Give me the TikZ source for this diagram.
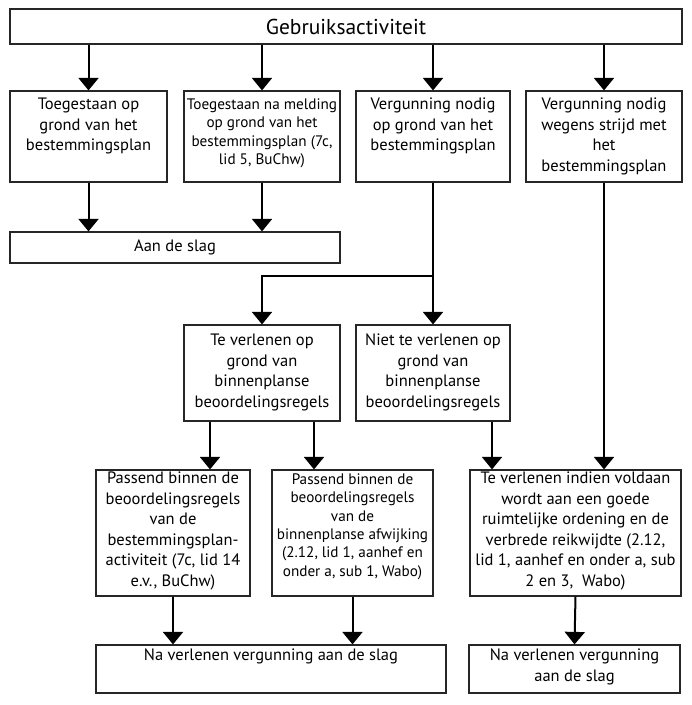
\documentclass[tikz,border=0pt]{standalone}
\usepackage{fontspec}
\setmainfont{PT Sans}
\usetikzlibrary{arrows.meta,calc}
\tikzset{
  boxs/.style={draw=black!85, line width=1.2pt, inner sep=0pt},
  txt/.style={anchor=north, inner sep=0pt, align=center, font=\fontsize{16.5}{20.5}\selectfont},
  txts/.style={anchor=north, inner sep=0pt, align=center, font=\fontsize{15.2}{18.4}\selectfont},
  arr/.style={line width=2pt, -{Triangle[width=20pt,length=12.5pt]}},
}
\begin{document}
\begin{tikzpicture}[x=1pt,y=-1pt]
\useasboundingbox (0,0) rectangle (692,705);
% boxes
\node[boxs, minimum width=672pt, minimum height=35pt, font=\fontsize{21.5}{25}\selectfont] (top) at (346,26.5) {Gebruiksactiviteit};
\node[boxs, minimum width=157pt, minimum height=91pt] (b1) at (88.5,136.5) {};
\node[boxs, minimum width=156pt, minimum height=91pt] (b2) at (262,136.5) {};
\node[boxs, minimum width=154pt, minimum height=91pt] (b3) at (433,136.5) {};
\node[boxs, minimum width=156pt, minimum height=91pt] (b4) at (604,136.5) {};
\node[boxs, minimum width=330pt, minimum height=31pt, font=\fontsize{16.5}{20.5}\selectfont] (aan) at (175,247.5) {Aan de slag};
\node[boxs, minimum width=156pt, minimum height=96pt] (t1) at (262,373) {};
\node[boxs, minimum width=154pt, minimum height=96pt] (t2) at (433,373) {};
\node[boxs, minimum width=154pt, minimum height=126pt] (c1) at (173,533) {};
\node[boxs, minimum width=161pt, minimum height=126pt] (c2) at (352.5,533) {};
\node[boxs, minimum width=211pt, minimum height=126pt] (c3) at (575.5,533) {};
\node[boxs, minimum width=350pt, minimum height=48pt] (d1) at (271,669) {};
\node[boxs, minimum width=211pt, minimum height=48pt] (d2) at (574.5,669) {};
% texts
\node[txt, yshift=-7.5pt] (b1t) at (b1.north) {Toegestaan op\\grond van het\\bestemmingsplan};
\node[txts, yshift=-8pt] (b2t) at (b2.north) {Toegestaan na melding\\op grond van het\\bestemmingsplan (7c,\\lid 5, BuChw)};
\node[txt, yshift=-7.5pt] (b3t) at (b3.north) {Vergunning nodig\\op grond van het\\bestemmingsplan};
\node[txt, yshift=-7.5pt] (b4t) at (b4.north) {Vergunning nodig\\wegens strijd met\\het\\bestemmingsplan};
\node[txt, yshift=-9.5pt] (t1t) at (t1.north) {Te verlenen op\\grond van\\binnenplanse\\beoordelingsregels};
\node[txt, yshift=-9.5pt] (t2t) at (t2.north) {Niet te verlenen op\\grond van\\binnenplanse\\beoordelingsregels};
\node[txt, yshift=-2.5pt] (c1t) at (c1.north) {Passend binnen de\\beoordelingsregels\\van de\\bestemmingsplan-\\activiteit (7c, lid 14\\e.v., BuChw)};
\node[txts, yshift=-4pt] (c2t) at (c2.north) {Passend binnen de\\beoordelingsregels\\van de\\binnenplanse afwijking\\(2.12, lid 1, aanhef en\\onder a, sub 1, Wabo)};
\node[txt, yshift=-2.5pt] (c3t) at (c3.north) {Te verlenen indien voldaan\\wordt aan een goede\\ruimtelijke ordening en de\\verbrede reikwijdte (2.12,\\lid 1, aanhef en onder a, sub\\2 en 3,\ \ Wabo)};
\node[txt, yshift=-4.5pt] (d1t) at (d1.north) {Na verlenen vergunning aan de slag};
\node[txt, yshift=-4.5pt] (d2t) at (d2.north) {Na verlenen vergunning\\aan de slag};
% connectors
\foreach \b in {b1,b2,b3,b4}
  \draw[arr] (\b.north |- top.south) -- (\b.north);
\draw[arr] (b1.south) -- (b1.south |- aan.north);
\draw[arr] (b2.south) -- (b2.south |- aan.north);
\coordinate (split) at ([yshift=48pt]t2.north);
\draw[arr] (b3.south) -- (b3.south |- t2.north);
\draw[arr] (b3.south |- split) -| (t1.north);
\draw[arr] (b4.south) -- (b4.south |- c3.north);
\draw[arr] ([xshift=-52pt]t1.south) -- ([xshift=-52pt]t1.south |- c1.north);
\draw[arr] ([xshift=52pt]t1.south) -- ([xshift=52pt]t1.south |- c2.north);
\draw[arr] ([xshift=59pt]t2.south) -- ([xshift=59pt]t2.south |- c3.north);
\draw[arr] (c1.south) -- (c1.south |- d1.north);
\draw[arr] (c2.south) -- (c2.south |- d1.north);
\draw[arr] (c3.south) -- (d2.north);
\end{tikzpicture}
\end{document}
